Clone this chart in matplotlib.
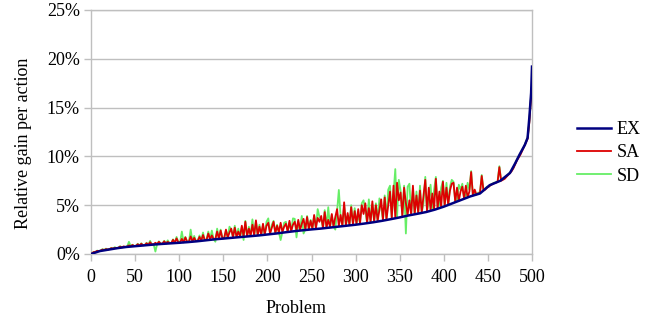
import numpy as np
import matplotlib
matplotlib.use("Agg")
import matplotlib.pyplot as plt
from matplotlib.ticker import FuncFormatter

# ---- data (values in percent) ----
ex_problem = [0, 10, 20, 30, 40, 50, 60, 70, 80, 90, 100, 110, 120, 130, 140, 150,
              160, 170, 180, 190, 200, 210, 220, 230, 240, 250, 260, 270, 280, 290,
              300, 310, 320, 330, 340, 350, 360, 370, 380, 390, 400, 410, 420, 430,
              441, 452, 464, 475, 481, 486, 492, 495, 497, 499, 500]
ex_values = [0.0, 0.3, 0.45, 0.6, 0.72, 0.8, 0.88, 0.96, 1.03, 1.09, 1.15, 1.22, 1.3, 1.4,
             1.5, 1.58, 1.66, 1.74, 1.82, 1.9, 2.0, 2.1, 2.22, 2.33, 2.43, 2.52, 2.6, 2.7,
             2.8, 2.9, 3.0, 3.12, 3.25, 3.4, 3.57, 3.75, 3.95, 4.12, 4.3, 4.55, 4.85, 5.2,
             5.55, 5.9, 6.2, 7.05, 7.5, 8.3, 9.3, 10.2, 11.2, 11.9, 14.0, 16.5, 19.2]

sample_problem = list(range(1, 500, 2))

sa_values = [
    0.05, 0.2, 0.22, 0.32, 0.3,     0.35, 0.45, 0.42, 0.5, 0.45,
    0.5, 0.6, 0.55, 0.62, 0.6,      0.64, 0.75, 0.68, 0.78, 0.72,
    0.76, 0.88, 0.8, 0.92, 0.82,    0.84, 1.0, 0.86, 1.05, 0.9,
    0.92, 1.1, 0.94, 1.2, 0.98,     1.0, 1.15, 1.02, 1.25, 1.05,
    1.06, 1.3, 1.08, 1.25, 1.12,    1.12, 1.45, 1.15, 1.6, 1.2,
    1.18, 1.55, 1.2, 1.7, 1.25,     1.25, 1.8, 1.3, 1.65, 1.32,
    1.35, 1.75, 1.38, 1.95, 1.42,   1.45, 2.1, 1.5, 1.9, 1.52,
    1.55, 2.3, 1.58, 2.4, 1.6,      1.62, 2.5, 1.68, 2.2, 2.6,
    1.7, 2.7, 1.75, 2.3, 1.8,       2.9, 1.8, 3.3, 1.85, 2.6,
    1.88, 3.0, 1.9, 3.45, 1.95,     2.8, 1.98, 3.1, 2.0, 2.9,
    3.2, 2.08, 2.7, 3.3, 2.15,      2.9, 2.2, 3.2, 2.25, 2.8,
    3.1, 2.3, 3.4, 2.35, 3.0,       3.3, 2.4, 3.5, 2.45, 3.1,
    3.6, 2.5, 3.8, 2.55, 3.4,       2.6, 4.0, 2.65, 3.7, 3.3,
    3.9, 2.68, 4.3, 2.72, 3.5,      2.78, 4.1, 2.8, 3.8, 4.6,
    2.88, 4.0, 2.9, 5.3, 2.95,      4.2, 3.0, 4.8, 3.05, 4.4,
    3.1, 4.6, 3.15, 5.0, 4.1,       5.2, 3.22, 4.7, 3.3, 5.4,
    3.35, 5.0, 3.4, 4.5, 5.6,       3.5, 5.8, 3.55, 5.0, 6.4,
    3.7, 7.0, 3.75, 7.3, 5.5,       6.3, 3.9, 6.8, 5.2, 4.0,
    5.5, 4.05, 7.0, 4.1, 6.0,       4.2, 6.5, 4.25, 6.0, 7.6,
    4.4, 6.8, 4.45, 6.2, 4.55,      7.7, 4.7, 6.4, 4.8, 7.4,
    4.95, 6.8, 5.05, 6.5, 7.2,      7.3, 5.35, 6.8, 5.45, 6.4,
    6.9, 5.7, 7.0, 5.8, 6.4,        8.4, 6.0, 6.6, 6.1, 6.2,
    6.25, 8.0, 6.5, 6.6, 6.8,       6.9, 7.05, 7.15, 7.25, 7.3,
    7.4, 8.9, 7.5, 7.6, 7.7,        7.9, 8.1, 8.3, 8.5, 8.8,
    9.2, 9.6, 9.9, 10.2, 10.6,      11.0, 11.4, 11.8, 13.5, 16.2,
]

sd_values = [
    0.05, 0.22, 0.2, 0.35, 0.3,     0.35, 0.5, 0.4, 0.55, 0.45,
    0.5, 0.62, 0.55, 0.7, 0.6,      0.64, 0.8, 0.68, 0.75, 0.72,
    0.76, 1.25, 0.8, 0.95, 0.82,    0.84, 1.05, 0.86, 1.1, 0.9,
    0.92, 1.15, 0.94, 1.35, 0.98,   1.0, 0.25, 1.02, 1.3, 1.05,
    1.06, 1.35, 1.08, 1.4, 1.12,    1.12, 1.5, 1.15, 1.75, 1.2,
    1.18, 2.3, 1.2, 1.75, 1.25,     1.25, 2.5, 1.3, 1.85, 1.32,
    1.35, 1.9, 1.38, 2.2, 1.42,     1.45, 2.3, 1.5, 2.4, 1.52,
    1.26, 2.6, 1.58, 2.5, 1.6,      1.62, 2.4, 1.68, 2.8, 2.5,
    1.7, 2.9, 1.75, 2.6, 1.8,       2.7, 1.43, 3.4, 1.85, 2.8,
    1.88, 3.55, 1.9, 3.3, 1.95,     3.0, 1.98, 2.9, 2.0, 3.3,
    3.65, 2.08, 3.0, 3.4, 2.15,     3.0, 2.2, 1.43, 2.25, 3.2,
    3.3, 2.3, 3.2, 2.35, 3.65,      3.6, 1.7, 3.3, 2.45, 3.9,
    2.1, 2.5, 3.9, 2.55, 3.5,       2.6, 3.9, 2.65, 4.6, 3.8,
    3.6, 2.68, 4.5, 2.72, 4.8,      2.78, 4.0, 2.8, 2.5, 4.4,
    6.56, 3.8, 2.9, 5.0, 2.95,      3.9, 3.0, 5.0, 3.05, 4.7,
    3.1, 4.0, 3.15, 5.2, 5.5,       4.4, 3.22, 5.6, 3.3, 5.1,
    3.35, 5.2, 3.4, 5.7, 4.8,       3.5, 6.0, 3.55, 6.6, 7.0,
    3.7, 6.2, 8.7, 3.75, 7.6,       6.5, 3.9, 7.0, 2.1, 6.9,
    7.2, 4.05, 6.6, 4.1, 6.4,       4.2, 7.0, 4.25, 5.2, 7.9,
    4.4, 5.5, 7.1, 4.5, 6.6,        7.9, 4.7, 5.1, 6.8, 7.5,
    4.95, 7.3, 5.05, 6.9, 7.6,      7.4, 5.35, 5.5, 7.1, 6.6,
    7.2, 5.7, 6.0, 7.3, 6.6,        8.5, 6.0, 6.3, 6.1, 6.3,
    6.25, 8.1, 6.6, 6.7, 6.9,       6.9, 7.1, 7.2, 7.3, 7.35,
    7.4, 9.0, 7.55, 7.65, 7.75,     7.95, 8.15, 8.35, 8.55, 8.85,
    9.3, 9.7, 10.0, 10.3, 10.7,     11.0, 11.5, 11.9, 13.6, 16.3,
]

series_names = ["EX", "SA", "SD"]
series_colors = ["#000080", "#dd0000", "#66ee66"]
x_ticks = list(range(0, 501, 50))
y_ticks = [0, 5, 10, 15, 20, 25]

# ---- figure ----
plt.rcParams["font.family"] = ["Liberation Serif", "DejaVu Serif"]
fs = 13

fig = plt.figure(figsize=(6.57, 3.22), dpi=100)
ax = fig.add_axes([91 / 657, 1 - 254 / 322, (532 - 91) / 657, (254 - 10) / 322])

gray = "#bfbfbf"
l_sd, = ax.plot(sample_problem, sd_values, color=series_colors[2], lw=1.3, zorder=2)
l_sa, = ax.plot(sample_problem, sa_values, color=series_colors[1], lw=1.3, zorder=3)
l_ex, = ax.plot(ex_problem, ex_values, color=series_colors[0], lw=1.8, zorder=4)

ax.set_xlim(0, 500)
ax.set_ylim(0, 25)
ax.set_xticks(x_ticks)
ax.set_yticks(y_ticks)
ax.yaxis.set_major_formatter(FuncFormatter(lambda v, p: f"{v:.0f}%"))
ax.grid(axis="y", color=gray, lw=1.0, zorder=0)
ax.set_axisbelow(True)
for s in ax.spines.values():
    s.set_color(gray)
    s.set_linewidth(1.0)
ax.tick_params(axis="x", direction="out", color=gray, length=5, width=1,
               labelsize=fs, labelcolor="black", pad=6)
ax.tick_params(axis="y", direction="out", color=gray, length=5, width=1,
               labelsize=fs, labelcolor="black", pad=3)

ax.set_xlabel("Problem", fontsize=fs)
ax.set_ylabel("Relative gain per action", fontsize=fs)
ax.xaxis.set_label_coords((296 - 91) / 441, -(300 - 254) / 244)
ax.yaxis.set_label_coords(-(91 - 32) / 441, (254 - 143.5) / 244)

fig.legend([l_ex, l_sa, l_sd], series_names, loc="upper left",
           bbox_to_anchor=(577 / 657, 1 - 121 / 322), frameon=False,
           handlelength=1.9, handletextpad=0.3, labelspacing=0.35,
           borderpad=0, borderaxespad=0, fontsize=fs)

fig.savefig("out.png", dpi=100)
